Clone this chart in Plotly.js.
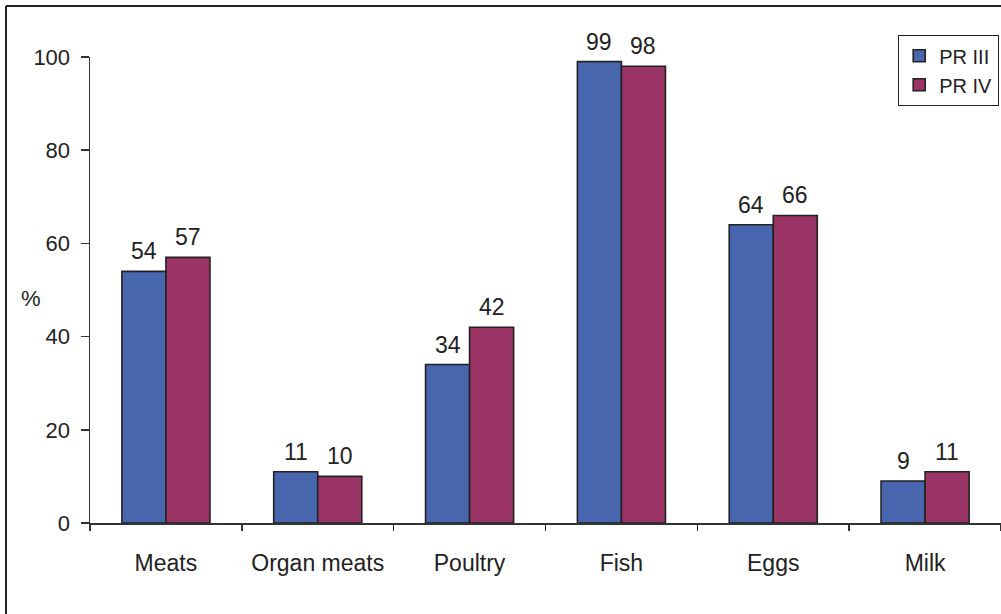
<!DOCTYPE html>
<html>
<head>
<meta charset="utf-8">
<script src="https://cdn.plot.ly/plotly-3.0.1.min.js"></script>
<style>
  html, body { margin: 0; padding: 0; background: #fff; }
  #chart { width: 1001px; height: 614px; }
</style>
</head>
<body>
<div id="chart"></div>
<script>
const categories = ["Meats", "Organ meats", "Poultry", "Fish", "Eggs", "Milk"];
const prIII = [54, 11, 34, 99, 64, 9];
const prIV = [57, 10, 42, 98, 66, 11];
const seriesNames = ["PR III", "PR IV"];
const yTicks = [0, 20, 40, 60, 80, 100];

const W = 1001, H = 614;
const mL = 90, mR = 0, mT = 57, mB = 91;
const pw = W - mL - mR, ph = H - mT - mB;
const px = x => (x - mL) / pw;
const py = y => (H - mB - y) / ph;

const fontFam = '"Liberation Sans", Arial, sans-serif';
const edge = '#222222';
const fs = 23;

const mk = (name, vals, color) => ({
  type: 'bar',
  name: name,
  x: categories,
  y: vals,
  marker: { color: color, line: { color: edge, width: 1.6 } },
  hoverinfo: 'x+y+name'
});

const data = [
  mk(seriesNames[0], prIII, '#4866AE'),
  mk(seriesNames[1], prIV, '#993464')
];

// value labels positioned through the axes (category + value), shifted to each bar's centre
const barHalf = pw / categories.length * (1 - 0.42) / 4;
const valueLabels = [];
[prIII, prIV].forEach((vals, si) => {
  vals.forEach((v, i) => {
    valueLabels.push({
      x: categories[i], y: v, xref: 'x', yref: 'y',
      text: String(v), showarrow: false,
      xanchor: 'center', yanchor: 'bottom',
      xshift: si === 0 ? -barHalf : barHalf, yshift: 5,
      font: { family: fontFam, size: fs, color: '#222' }
    });
  });
});

const layout = {
  width: W, height: H,
  margin: { l: mL, r: mR, t: mT, b: mB, pad: 0, autoexpand: false },
  paper_bgcolor: '#fff', plot_bgcolor: '#fff',
  font: { family: fontFam, size: fs, color: '#222' },
  barmode: 'group',
  bargap: 0.42,
  bargroupgap: 0,
  showlegend: true,
  legend: {
    x: px(898), y: py(35), xanchor: 'left', yanchor: 'top',
    bgcolor: '#fff', bordercolor: edge, borderwidth: 1.2,
    font: { family: fontFam, size: 20, color: '#222' },
    itemwidth: 30, tracegroupgap: 2
  },
  xaxis: {
    type: 'category',
    showline: true, linecolor: '#333', linewidth: 1.5,
    ticks: 'outside', tickson: 'boundaries', ticklen: 6, tickwidth: 1.5, tickcolor: '#333',
    showgrid: false, zeroline: false,
    ticklabelstandoff: 19,
    tickfont: { family: fontFam, size: fs, color: '#222' },
    fixedrange: true
  },
  yaxis: {
    range: [0, 100],
    tickvals: yTicks,
    ticktext: yTicks.map(String),
    showline: true, linecolor: '#333', linewidth: 1.5,
    ticks: 'outside', ticklen: 8, tickwidth: 1.5, tickcolor: '#333',
    showgrid: false, zeroline: false,
    ticklabelstandoff: 6,
    tickfont: { family: fontFam, size: 22, color: '#222' },
    fixedrange: true
  },
  annotations: valueLabels.concat([{
    text: '%', xref: 'paper', yref: 'paper',
    x: px(31), y: py(298), xanchor: 'center', yanchor: 'middle',
    showarrow: false, font: { family: fontFam, size: 22, color: '#222' }
  }]),
  shapes: [
    { type: 'line', xref: 'paper', yref: 'paper', x0: px(6), x1: px(6), y0: py(6), y1: py(620), line: { color: edge, width: 2 } },
    { type: 'line', xref: 'paper', yref: 'paper', x0: px(6), x1: px(1010), y0: py(6), y1: py(6), line: { color: edge, width: 2 } }
  ]
};

Plotly.newPlot('chart', data, layout, { displayModeBar: false, staticPlot: true });
</script>
</body>
</html>
